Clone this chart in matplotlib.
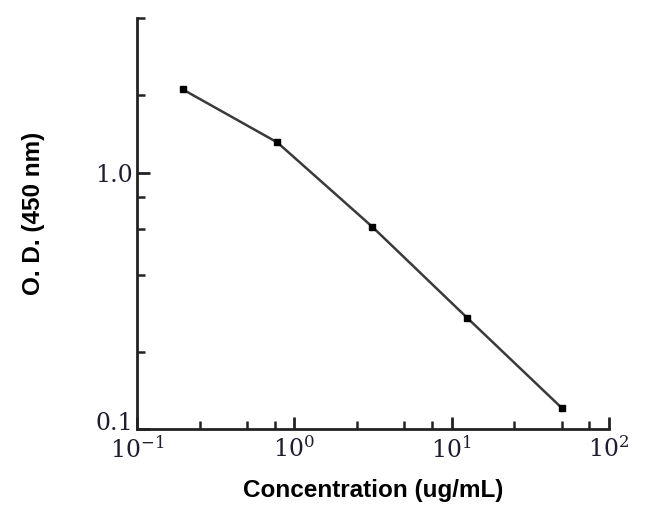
import matplotlib
matplotlib.use('Agg')
import matplotlib.pyplot as plt
from matplotlib.ticker import FixedLocator, NullFormatter
import matplotlib.transforms as mtrans

# serial dilution standard curve
conc = [0.195, 0.78, 3.125, 12.5, 50]
od = [2.11, 1.31, 0.615, 0.272, 0.121]

x_major = [0.1, 1, 10, 100]
x_major_labels = ['$10^{-1}$', '$10^{0}$', '$10^{1}$', '$10^{2}$']
y_major = [0.1, 1.0]
y_major_labels = ['0.1', '1.0']

plt.rcParams['mathtext.fontset'] = 'dejavuserif'

fig = plt.figure(figsize=(6.5, 5.17), dpi=100)
ax = fig.add_axes([0.2108, 0.170, 0.7262, 0.795])

ax.plot(conc, od, color='#3a3a3a', lw=1.8, marker='s', markersize=5,
        markerfacecolor='black', markeredgecolor='black')

ax.set_xscale('log')
ax.set_yscale('log')
ax.set_xlim(0.1, 100)
ax.set_ylim(0.1, 4)

for s in ['top', 'right']:
    ax.spines[s].set_visible(False)
for s in ['left', 'bottom']:
    ax.spines[s].set_linewidth(2)
    ax.spines[s].set_color('#222222')

ax.xaxis.set_major_locator(FixedLocator(x_major))
ax.set_xticklabels(x_major_labels)
x_minor = [m * d for d in [0.1, 1, 10] for m in (2.5, 5, 7.5)]
ax.xaxis.set_minor_locator(FixedLocator(x_minor))
ax.xaxis.set_minor_formatter(NullFormatter())

ax.yaxis.set_major_locator(FixedLocator(y_major))
ax.set_yticklabels(y_major_labels)
ax.yaxis.set_minor_locator(FixedLocator([0.2, 0.4, 0.6, 0.8, 2, 4]))
ax.yaxis.set_minor_formatter(NullFormatter())

ax.tick_params(which='major', direction='in', length=9, width=2, color='#222222',
               labelsize=17, labelcolor='#1e1e30')
ax.tick_params(which='minor', direction='in', length=6, width=1.8, color='#222222')
for lab in ax.get_xticklabels() + ax.get_yticklabels():
    lab.set_family('DejaVu Serif')
ax.tick_params(axis='x', pad=5)
ax.tick_params(axis='y', pad=3)

# the 0.1 label sits a little above the axis line in the original
ylabs = ax.get_yticklabels()
ylabs[0].set_transform(ylabs[0].get_transform() +
                       mtrans.ScaledTranslation(0, 6 / 72, fig.dpi_scale_trans))

ax.set_xlabel('Concentration (ug/mL)', fontsize=17.5, fontweight='bold',
              family='Liberation Sans', labelpad=12)
ax.set_ylabel('O. D. (450 nm)', fontsize=17.5, fontweight='bold',
              family='Liberation Sans')
ax.yaxis.set_label_coords(-0.195, 0.525)

fig.savefig('out.png', dpi=100)
